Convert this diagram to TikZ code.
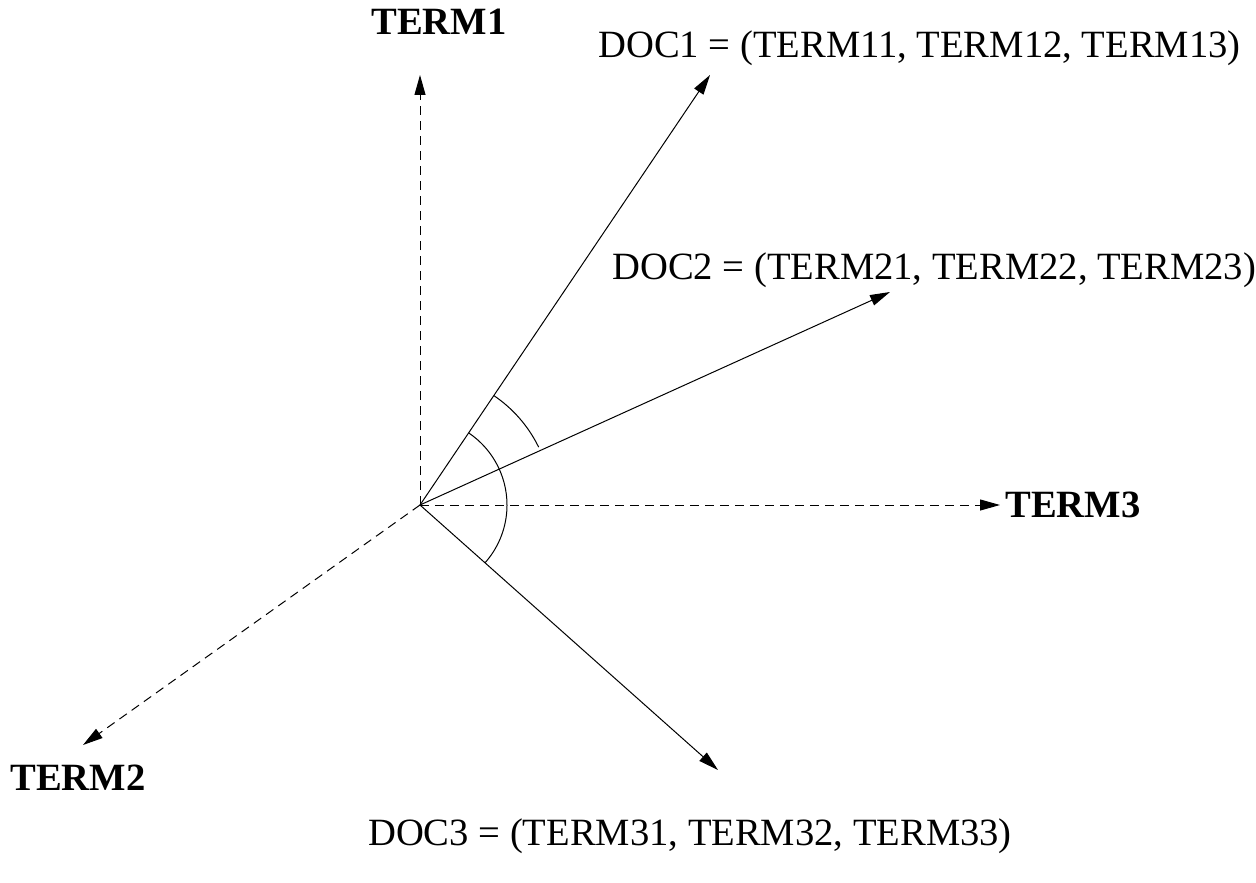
\documentclass[tikz,border=0pt]{standalone}
\usepackage{fontspec}
\setmainfont{Liberation Serif}
\usetikzlibrary{arrows.meta}
\begin{document}
\begin{tikzpicture}[x=0.5pt,y=-0.5pt,
  vec/.style={line width=0.5pt,-{Triangle[length=10pt,width=5.5pt]}},
  axis/.style={vec,dash pattern=on 4.5pt off 3pt},
  lbl/.style={inner sep=0pt,font=\fontsize{19.3}{22}\selectfont},
  blbl/.style={lbl,font=\fontsize{19.3}{22}\selectfont\bfseries},
  arcline/.style={line width=0.5pt}]
\useasboundingbox (0,0) rectangle (1256,882);
\coordinate (O) at (420,505);
\coordinate (t1) at (420,75);
\coordinate (t3) at (1000,505);
\coordinate (t2) at (83,745);
\coordinate (d1) at (710,75);
\coordinate (d2) at (890,292);
\coordinate (d3) at (718,770);
\draw[axis] (O) -- (t1);
\draw[axis] (O) -- (t3);
\draw[axis] (O) -- (t2);
\draw[vec] (O) -- (d1);
\draw[vec] (O) -- (d2);
\draw[vec] (O) -- (d3);
\draw[arcline] ([shift={(-56:87)}]O) arc[start angle=-56,end angle=41.6,radius=87];
\draw[arcline] ([shift={(-56:132)}]O) arc[start angle=-56,end angle=-26,radius=132];
\node[blbl] (L1) at (439,22) {TERM1};
\node[blbl,anchor=west] (L3) at (1005,505) {TERM3};
\node[blbl] (L2) at (78,778) {TERM2};
\node[lbl,anchor=west] (D1) at (598,48) {DOC1 = (TERM11, TERM12, TERM13)};
\node[lbl,anchor=west] (D2) at (612,270) {DOC2 = (TERM21, TERM22, TERM23)};
\node[lbl] (D3) at (690,836) {DOC3 = (TERM31, TERM32, TERM33)};
\end{tikzpicture}
\end{document}
